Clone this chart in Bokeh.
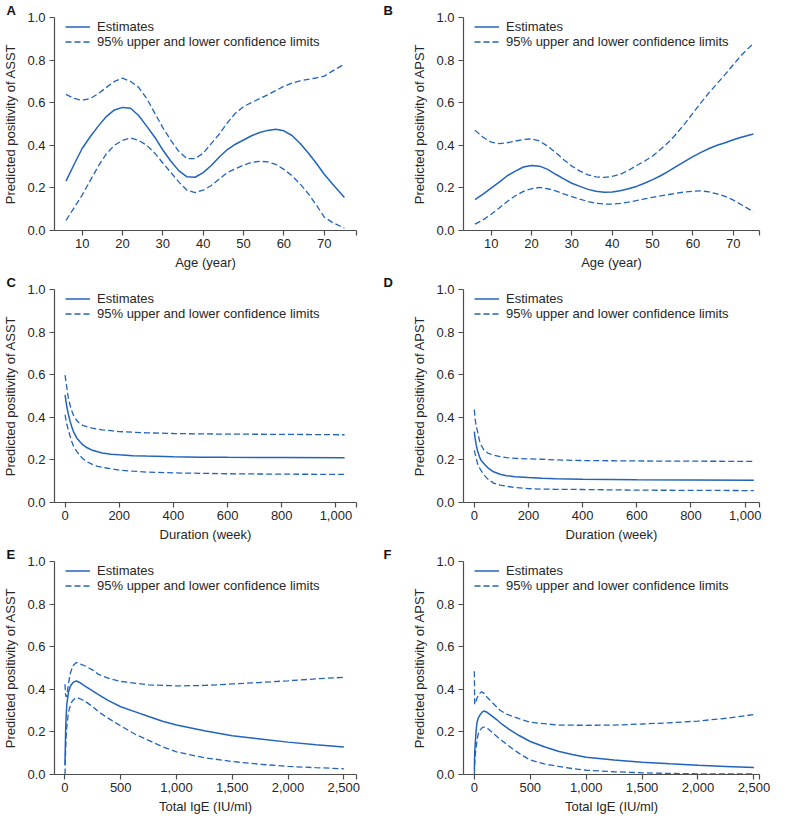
from bokeh.plotting import figure
from bokeh.layouts import column, row
from bokeh.models import (Range1d, FixedTicker, PrintfTickFormatter, NumeralTickFormatter,
                          BasicTickFormatter, Legend, LegendItem, Title)
from bokeh.embed import file_html
from bokeh.resources import INLINE

# ---------------- data ----------------
age_x = [6, 8, 10, 12, 14, 16, 18, 20, 22, 24, 26, 28, 30, 32, 34, 36, 38, 40, 42, 44,
         46, 48, 50, 52, 54, 56, 58, 60, 62, 64, 66, 68, 70, 72, 75]

a_est = [.232, .31, .385, .44, .49, .535, .566, .578, .574, .54, .49, .438, .378, .325, .28,
         .252, .25, .272, .305, .345, .38, .405, .425, .445, .46, .47, .475, .468, .446, .41,
         .365, .317, .264, .22, .155]
a_up = [.639, .62, .611, .62, .642, .672, .70, .715, .70, .672, .62, .551, .483, .423, .37,
        .337, .337, .363, .408, .453, .506, .551, .582, .601, .619, .637, .657, .677, .692,
        .702, .71, .716, .725, .748, .781]
a_lo = [.048, .106, .166, .234, .302, .36, .40, .423, .434, .423, .40, .363, .317, .272, .227,
        .189, .178, .189, .211, .242, .272, .29, .307, .32, .325, .322, .31, .287, .257, .219,
        .174, .121, .063, .038, .011]

b_est = [.145, .171, .199, .227, .257, .279, .298, .305, .302, .287, .264, .242, .222, .207,
         .193, .184, .18, .181, .187, .196, .207, .222, .239, .257, .279, .302, .325, .347,
         .367, .385, .40, .412, .426, .438, .453]
b_up = [.471, .438, .415, .408, .412, .42, .427, .43, .42, .396, .366, .332, .302, .279, .261,
        .252, .249, .254, .264, .282, .305, .325, .35, .381, .415, .456, .502, .551, .60, .647,
        .69, .733, .778, .823, .879]
b_lo = [.03, .05, .076, .106, .136, .163, .184, .196, .202, .196, .186, .172, .159, .147, .136,
        .128, .124, .124, .127, .133, .14, .148, .156, .163, .169, .175, .181, .184, .186, .181,
        .172, .16, .143, .121, .088]

c_x = [0, 3, 7, 12, 19, 25, 31, 43, 55, 66, 80, 101, 120, 137, 170, 200, 250, 300, 400, 500,
       600, 800, 1032]
c_est = [.505, .478, .447, .415, .379, .355, .333, .303, .285, .27, .258, .245, .238, .232,
         .227, .224, .22, .218, .215, .213, .212, .211, .21]
c_up = [.598, .57, .535, .49, .455, .43, .41, .385, .37, .362, .356, .349, .345, .341, .337,
        .333, .33, .327, .324, .322, .321, .32, .318]
c_lo = [.412, .39, .365, .34, .31, .285, .265, .24, .22, .205, .192, .179, .17, .165, .158,
        .152, .147, .143, .139, .137, .135, .133, .132]

d_x = [0, 3, 7, 12, 19, 25, 36, 50, 71, 95, 119, 150, 200, 250, 300, 400, 600, 800, 1032]
d_est = [.333, .3, .27, .242, .215, .198, .182, .163, .144, .133, .126, .121, .117, .114, .112,
         .109, .107, .106, .105]
d_up = [.436, .39, .36, .333, .29, .27, .245, .232, .222, .215, .211, .207, .205, .203, .2,
        .197, .195, .194, .193]
d_lo = [.245, .228, .208, .182, .163, .15, .129, .11, .091, .082, .076, .07, .065, .063, .062,
        .061, .058, .057, .056]

e_est_x = [0, 3, 6, 10, 17, 31, 45, 60, 80, 102, 131, 180, 244, 300, 386, 500, 625, 750, 875,
           1000, 1250, 1500, 1750, 2000, 2250, 2500]
e_est = [.045, .13, .21, .27, .333, .386, .41, .424, .435, .439, .432, .415, .394, .375, .348,
         .318, .295, .272, .25, .232, .205, .182, .167, .152, .14, .129]
e_up_x = [0, 5, 10, 17, 30, 45, 70, 102, 140, 188, 250, 300, 400, 500, 750, 1000, 1250, 1500,
          1750, 2000, 2250, 2500]
e_up = [.424, .38, .364, .37, .42, .47, .51, .526, .518, .508, .49, .47, .45, .437, .421, .416,
        .418, .425, .432, .44, .449, .456]
e_lo_x = [0, 5, 10, 17, 30, 45, 65, 88, 116, 150, 188, 250, 300, 400, 500, 625, 750, 875, 1000,
          1250, 1500, 1750, 2000, 2250, 2500]
e_lo = [.0, .1, .17, .227, .29, .318, .345, .356, .36, .352, .341, .318, .295, .26, .228, .19,
        .16, .13, .106, .079, .061, .048, .038, .032, .027]

f_est_x = [0, 3, 8.5, 15, 23, 35, 51, 70, 85, 114, 150, 199, 250, 312, 400, 500, 625, 750, 875,
           1000, 1250, 1500, 1750, 2000, 2250, 2500]
f_est = [.023, .1, .15, .2, .242, .265, .28, .293, .298, .292, .278, .258, .235, .212, .183,
         .155, .13, .109, .094, .081, .068, .058, .05, .043, .038, .033]
f_up_x = [0, 3, 10, 25, 45, 65, 85, 110, 142, 185, 227, 280, 341, 400, 500, 750, 1000, 1250,
          1500, 1750, 2000, 2250, 2500]
f_up = [.485, .33, .335, .36, .38, .388, .382, .365, .348, .325, .303, .285, .273, .262, .245,
        .232, .231, .232, .237, .243, .251, .264, .281]
f_lo_x = [0, 5, 14, 25, 34, 50, 71, 85, 110, 128, 175, 227, 280, 341, 420, 500, 625, 750, 875,
          1000, 1250, 1500, 1750, 2000, 2500]
f_lo = [.0, .07, .12, .165, .19, .208, .22, .223, .219, .212, .19, .167, .145, .121, .092, .068,
        .05, .038, .028, .02, .013, .008, .005, .003, .003]

y_ticks = [0, 0.2, 0.4, 0.6, 0.8, 1.0]
age_ticks = [10, 20, 30, 40, 50, 60, 70]
dur_ticks = [0, 200, 400, 600, 800, 1000]
ige_ticks = [0, 500, 1000, 1500, 2000, 2500]

legend_labels = ["Estimates", "95% upper and lower confidence limits"]

# ---------------- style ----------------
FONT = "Liberation Sans"
BLUE = "#2163bd"
AX = "#4d4d4d"
TXT = "#262626"
FS = "13px"


def panel(letter, est_xy, up_xy, lo_xy, xlabel, ylabel, xr, xticks, fmt,
          width, height, bl, br, bt, bb):
    title = Title(text=letter, align="left", offset=-(bl - 1), standoff=0,
                  text_font=FONT, text_font_size="13px", text_font_style="bold",
                  text_color="#111111")
    p = figure(width=width, height=height, x_range=Range1d(*xr), y_range=Range1d(0, 1),
               output_backend="svg", toolbar_location=None, title=title,
               min_border_left=bl, min_border_right=br, min_border_top=bt, min_border_bottom=bb)
    p.outline_line_color = None
    p.grid.visible = False
    p.background_fill_color = "white"
    fh = height - bt - bb

    r_est = p.line(est_xy[0], est_xy[1], line_color=BLUE, line_width=1.5)
    r_up = p.line(up_xy[0], up_xy[1], line_color=BLUE, line_width=1.3, line_dash="6 3")
    p.line(lo_xy[0], lo_xy[1], line_color=BLUE, line_width=1.3, line_dash="6 3")

    ticks = list(xticks) + [xr[1]]
    p.xaxis.ticker = FixedTicker(ticks=ticks)
    p.xaxis.formatter = fmt
    p.xaxis.major_label_overrides = {xr[1]: ""}
    p.yaxis.ticker = FixedTicker(ticks=y_ticks)
    p.yaxis.formatter = PrintfTickFormatter(format="%.1f")
    p.xaxis.axis_label = xlabel
    p.yaxis.axis_label = ylabel
    for ax in (p.xaxis[0], p.yaxis[0]):
        ax.axis_line_color = AX
        ax.axis_line_width = 1.2
        ax.major_tick_line_color = AX
        ax.major_tick_line_width = 1.2
        ax.major_tick_out = 5
        ax.major_tick_in = 0
        ax.minor_tick_line_color = None
        ax.major_label_text_font = FONT
        ax.major_label_text_font_size = FS
        ax.major_label_text_color = TXT
        ax.axis_label_text_font = FONT
        ax.axis_label_text_font_size = FS
        ax.axis_label_text_font_style = "normal"
        ax.axis_label_text_color = TXT
    p.yaxis.major_label_standoff = 4
    p.xaxis.major_label_standoff = 3
    p.yaxis.axis_label_standoff = 6
    p.xaxis.axis_label_standoff = 4

    legend = Legend(items=[LegendItem(label=legend_labels[0], renderers=[r_est]),
                           LegendItem(label=legend_labels[1], renderers=[r_up])],
                    location=(11, fh - 3.5 - 30), orientation="vertical",
                    padding=0, margin=0, spacing=0,
                    glyph_width=25, glyph_height=15, label_height=15, label_standoff=7,
                    label_text_font=FONT, label_text_font_size=FS, label_text_color=TXT,
                    border_line_color=None, background_fill_alpha=0)
    p.add_layout(legend)
    return p


WL, WR = 382, 391
BL_L, BR_L = 49, 26
BL_R, BR_R = 81, 14
RH, BT, BB = 272, 15, 42

num = NumeralTickFormatter(format="0,0")

pa = panel("A", (age_x, a_est), (age_x, a_up), (age_x, a_lo), "Age (year)",
           "Predicted positivity of ASST", (3.15, 78), age_ticks, BasicTickFormatter(),
           WL, RH, BL_L, BR_L, BT, BB)
pb = panel("B", (age_x, b_est), (age_x, b_up), (age_x, b_lo), "Age (year)",
           "Predicted positivity of APST", (3.15, 76.5), age_ticks, BasicTickFormatter(),
           WR, RH, BL_R, BR_R, BT, BB)
pc = panel("C", (c_x, c_est), (c_x, c_up), (c_x, c_lo), "Duration (week)",
           "Predicted positivity of ASST", (-39, 1076), dur_ticks, num,
           WL, RH, BL_L, BR_L, BT, BB)
pd_ = panel("D", (d_x, d_est), (d_x, d_up), (d_x, d_lo), "Duration (week)",
            "Predicted positivity of APST", (-40, 1053), dur_ticks, num,
            WR, RH, BL_R, BR_R, BT, BB)
pe = panel("E", (e_est_x, e_est), (e_up_x, e_up), (e_lo_x, e_lo), "Total IgE (IU/ml)",
           "Predicted positivity of ASST", (-94, 2614), ige_ticks, num,
           WL, RH, BL_L, BR_L, BT, BB)
pf = panel("F", (f_est_x, f_est), (f_up_x, f_up), (f_lo_x, f_lo), "Total IgE (IU/ml)",
           "Predicted positivity of APST", (-97, 2550), ige_ticks, num,
           WR, RH, BL_R, BR_R, BT, BB)

layout = column(row(pa, pb), row(pc, pd_), row(pe, pf))
open("out.html", "w").write(file_html(layout, INLINE))
